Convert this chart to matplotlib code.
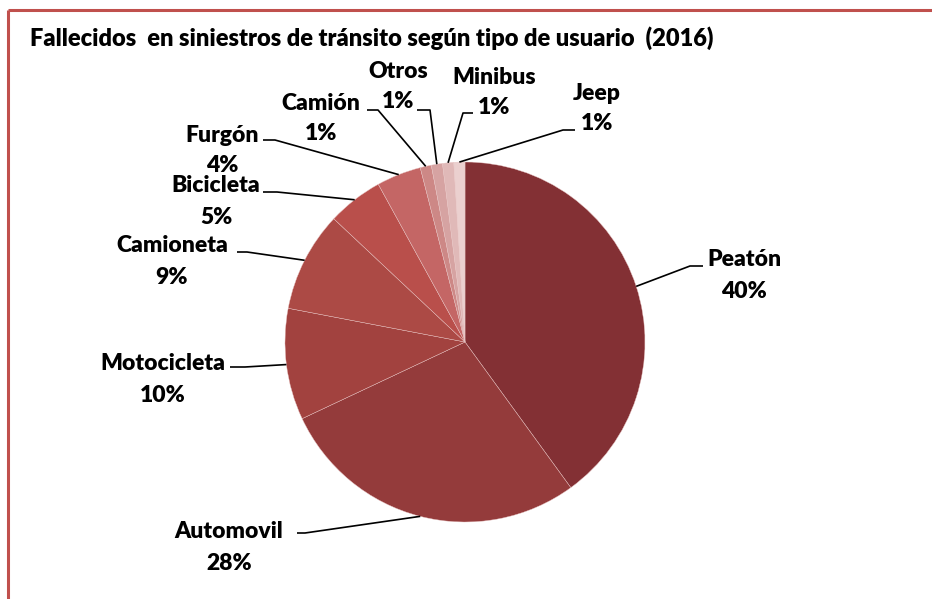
import numpy as np
import matplotlib
matplotlib.use("Agg")
import matplotlib.pyplot as plt

# Fallecidos por tipo de usuario, 2016 (%)
categorias = ["Peatón", "Automovil", "Motocicleta", "Camioneta", "Bicicleta",
              "Furgón", "Camión", "Otros", "Minibus", "Jeep"]
porcentajes = [40, 28, 10, 9, 5, 4, 1, 1, 1, 1]
colores = ["#833034", "#943b3b", "#a2423f", "#ac4a45", "#b94f4b",
           "#c46665", "#cd8886", "#d6a3a2", "#e0b9b8", "#ebd0cf"]

W, H = 932, 599
CX, CY, R = 465, 342, 180

# label placement in pixel space (x, y from top): text centre, name row, pct row
lab_x = [744, 229, 163, 172, 216, 222, 321, 398, 494, 597]
lab_y = [260, 531, 364, 246, 186, 135, 103, 71, 77, 93]
pct_y = [292, 563, 395, 277, 217, 165, 134, 101, 108, 124]
# leader line: elbow point and end of the short horizontal tail
elbow = [(690, 266), (305, 533), (245, 367), (247, 252), (277, 192),
         (275, 140), (378, 110), (430, 110), (463, 113), (563, 130)]
tail_x = [703, 297, 230, 237, 263, 263, 367, 417, 473, 575]

FONT = "Lato"


def fy(y):
    return H - y


fig = plt.figure(figsize=(W / 100, H / 100), dpi=100)
ax = fig.add_axes([0, 0, 1, 1])

wedges, _ = ax.pie(porcentajes, colors=colores, startangle=90, counterclock=False,
                   center=(CX, fy(CY)), radius=R,
                   wedgeprops=dict(edgecolor="#e8c4c3", linewidth=0.3))
ax.set_xlim(0, W)
ax.set_ylim(0, H)
ax.set_aspect("equal")
ax.axis("off")

total = float(sum(porcentajes))
acum = 0.0
for i, (nombre, p) in enumerate(zip(categorias, porcentajes)):
    mid = (acum + p / 2) / total * 360.0
    acum += p
    # clockwise from 12 o'clock
    ex = CX + R * np.sin(np.radians(mid))
    ey = CY - R * np.cos(np.radians(mid))
    bx, by = elbow[i]
    ax.plot([ex, bx, tail_x[i]], [fy(ey), fy(by), fy(by)], color="black",
            lw=1.2, solid_capstyle="butt", zorder=3)
    ax.text(lab_x[i], fy(lab_y[i]), nombre, ha="center", va="center",
            fontsize=16.5, fontweight="heavy", family=FONT)
    ax.text(lab_x[i], fy(pct_y[i]), f"{p}%", ha="center", va="center",
            fontsize=16.5, fontweight="heavy", family=FONT)

ax.text(30, fy(38), "Fallecidos  en siniestros de tránsito según tipo de usuario  (2016)",
        ha="left", va="center", fontsize=17, fontweight="heavy", family=FONT)

# chart frame (top and left edges)
ax.plot([8, W], [fy(10), fy(10)], color="#c0504d", lw=2.2, solid_capstyle="butt")
ax.plot([8, 8], [fy(10), 0], color="#c0504d", lw=2.2, solid_capstyle="butt")

fig.savefig("out.png", dpi=100)
